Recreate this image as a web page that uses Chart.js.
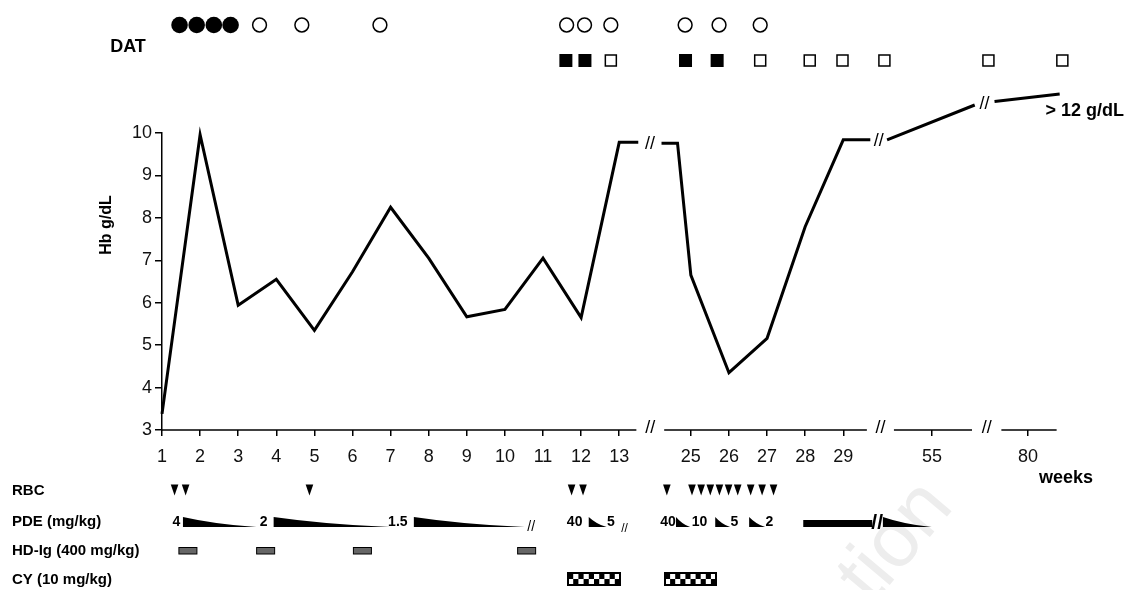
<!DOCTYPE html>
<html>
<head>
<meta charset="utf-8">
<script src="https://cdn.jsdelivr.net/npm/chart.js@4.4.1/dist/chart.umd.min.js"></script>
<style>
  html, body { margin: 0; padding: 0; background: #fff; }
  #wrap { width: 1127px; height: 590px; position: relative; }
</style>
</head>
<body>
<div id="wrap"><canvas id="grafico"></canvas></div>
<script>
// semanas com marca no eixo x (eixo quebrado)
const tickWeeks = [1, 2, 3, 4, 5, 6, 7, 8, 9, 10, 11, 12, 13, 25, 26, 27, 28, 29, 55, 80];

// Hb g/dL - null marca a quebra do eixo
const hbWeeks  = [1, 2, 3, 4, 5, 6, 7, 8, 9, 10, 11, 12, 13, 13.5, null, 24.23, 24.65, 25, 26, 27, 28, 29, 29.71, null, 53.82, 56.12, null, 79.12, 80.83];
const hbValues = [3.38, 9.96, 5.94, 6.55, 5.35, 6.73, 8.25, 7.05, 5.67, 5.84, 7.05, 5.65, 9.78, 9.78, null, 9.76, 9.76, 6.65, 4.35, 5.16, 7.79, 9.84, 9.84, null, 9.84, 10.66, null, 10.74, 10.92];

// DAT (cheio = positivo)
const datCircleWeeks = [1.46, 1.91, 2.36, 2.8, 3.56, 4.67, 6.72, 11.62, 12.09, 12.78, 24.85, 25.74, 26.82];
const datCirclePos   = [1, 1, 1, 1, 0, 0, 0, 0, 0, 0, 0, 0, 0];
const datSquareWeeks = [11.6, 12.1, 12.78, 24.86, 25.69, 26.82, 28.12, 28.98, 30.08, 56.48, 80.9];
const datSquarePos   = [1, 1, 0, 1, 1, 0, 0, 0, 0, 0, 0];

// transfusoes
const rbcWeeks = [1.33, 1.62, 4.87, 11.75, 12.05, 24.37, 25.03, 25.27, 25.51, 25.75, 25.99, 26.23, 26.57, 26.87, 27.17];

// prednisolona (mg/kg)
const pdeLabels     = ['4', '2', '1.5', '40', '5', '40', '10', '5', '2'];
const pdeLabelWeeks = [1.38, 3.67, 7.19, 11.83, 12.78, 24.4, 25.23, 26.14, 27.06];
const pdeTaperFrom  = [1.55, 3.93, 7.61, 12.2, 24.61, 25.64, 26.53, 27.95, 53.71];
const pdeTaperTo    = [3.48, 6.98, 10.52, 12.67, 24.98, 26.03, 26.95, 29.76, 54.99];
const pdeTaper      = [1, 1, 1, 1, 1, 1, 1, 0, 1];
const pdeBreakWeeks = [10.69, 13.14];
const pdeBoldBreak  = [29.89];

// HD-Ig e CY
const hdigWeeks = [1.68, 3.72, 6.26, 10.57];
const cyFrom = [11.65, 24.33];
const cyTo   = [13.02, 25.67];

// eixo quebrado: inicio de cada trecho e deslocamento semana -> posicao
const segStart = [0, 20, 45, 70];
const segShift = [1, 11.12, 34.79, 57.27];
const axisPieces = [[1, 13.45], [24.3, 29.62], [54, 56.05], [79.3, 80.75]];

function axisPos(week) {
    let s = 0;
    for (let i = 0; i < segStart.length; i++) {
        if (week >= segStart[i]) s = segShift[i];
    }
    return week - s;
}

const hbData = hbWeeks.map(function (w, i) {
    if (w === null) {
        return { x: (axisPos(hbWeeks[i - 1]) + axisPos(hbWeeks[i + 1])) / 2, y: null };
    }
    return { x: axisPos(w), y: hbValues[i] };
});

const FONT = "'Liberation Sans', Arial, Helvetica, sans-serif";
Chart.defaults.font.family = FONT;
Chart.defaults.color = '#111';

function slashes(ctx, x, y, size, bold) {
    ctx.save();
    ctx.font = (bold ? 'bold ' : '') + size + 'px ' + FONT;
    ctx.fillStyle = '#000';
    ctx.textAlign = 'center';
    ctx.textBaseline = 'middle';
    ctx.fillText('//', x, y);
    ctx.restore();
}

const extras = {
    id: 'extras',
    beforeDraw(chart) {
        // marca d'agua
        const ctx = chart.ctx;
        ctx.save();
        ctx.translate(872, 606);
        ctx.rotate(-50 * Math.PI / 180);
        ctx.font = '80px ' + FONT;
        ctx.fillStyle = '#ededed';
        ctx.fillText('tion', 0, 0);
        ctx.restore();
    },
    afterDraw(chart) {
        const ctx = chart.ctx;
        const xs = chart.scales.x, ys = chart.scales.y;
        const px = w => xs.getPixelForValue(axisPos(w));
        const base = ys.bottom;

        ctx.save();
        // eixo x em trechos
        ctx.strokeStyle = '#000';
        ctx.lineWidth = 1.5;
        axisPieces.forEach(function (p) {
            ctx.beginPath();
            ctx.moveTo(px(p[0]), base);
            ctx.lineTo(px(p[1]), base);
            ctx.stroke();
        });
        for (let i = 0; i < axisPieces.length - 1; i++) {
            slashes(ctx, (px(axisPieces[i][1]) + px(axisPieces[i + 1][0])) / 2, base - 2, 18, false);
        }

        // quebras na linha de Hb
        hbData.forEach(function (d, i) {
            if (d.y === null) {
                const ya = ys.getPixelForValue(hbData[i - 1].y);
                const yb = ys.getPixelForValue(hbData[i + 1].y);
                slashes(ctx, xs.getPixelForValue(d.x), (ya + yb) / 2 + 1, 18, false);
            }
        });

        // titulos
        ctx.fillStyle = '#000';
        ctx.font = 'bold 16px ' + FONT;
        ctx.textAlign = 'center';
        ctx.textBaseline = 'middle';
        ctx.save();
        ctx.translate(107, 225);
        ctx.rotate(-Math.PI / 2);
        ctx.fillText('Hb g/dL', 0, 0);
        ctx.restore();

        ctx.font = 'bold 18px ' + FONT;
        ctx.fillText('DAT', 128, 47);
        ctx.textAlign = 'left';
        ctx.textBaseline = 'alphabetic';
        ctx.fillText('weeks', 1039, 483);
        ctx.font = 'bold 18px ' + FONT;
        ctx.textAlign = 'right';
        ctx.textBaseline = 'middle';
        ctx.fillText('> 12 g/dL', 1124, 111);

        ctx.font = 'bold 15px ' + FONT;
        ctx.textAlign = 'left';
        ctx.fillText('RBC', 12, 491);
        ctx.fillText('PDE (mg/kg)', 12, 522);
        ctx.fillText('HD-Ig (400 mg/kg)', 12, 551);
        ctx.fillText('CY (10 mg/kg)', 12, 580);

        // DAT circulos
        ctx.lineWidth = 1.5;
        datCircleWeeks.forEach(function (w, i) {
            ctx.beginPath();
            if (datCirclePos[i]) {
                ctx.arc(px(w), 25, 8.3, 0, Math.PI * 2);
                ctx.fill();
            } else {
                ctx.arc(px(w), 25, 6.9, 0, Math.PI * 2);
                ctx.stroke();
            }
        });
        // DAT quadrados
        datSquareWeeks.forEach(function (w, i) {
            const x = px(w);
            if (datSquarePos[i]) {
                ctx.fillRect(x - 6.5, 54, 13, 13);
            } else {
                ctx.strokeRect(x - 5.5, 55, 11, 11);
            }
        });

        // RBC
        rbcWeeks.forEach(function (w) {
            const x = px(w);
            ctx.beginPath();
            ctx.moveTo(x - 3.8, 484.5);
            ctx.lineTo(x + 3.8, 484.5);
            ctx.lineTo(x, 495.5);
            ctx.closePath();
            ctx.fill();
        });

        // PDE
        ctx.font = 'bold 14px ' + FONT;
        ctx.textAlign = 'center';
        pdeLabels.forEach(function (t, i) {
            ctx.fillText(t, px(pdeLabelWeeks[i]), 522);
        });
        pdeTaperFrom.forEach(function (w, i) {
            const a = px(w), b = px(pdeTaperTo[i]);
            ctx.beginPath();
            if (pdeTaper[i]) {
                ctx.moveTo(a, 517);
                ctx.quadraticCurveTo(a + (b - a) * 0.45, 524.5, b, 527);
                ctx.lineTo(a, 527);
            } else {
                ctx.rect(a, 520, b - a, 7);
            }
            ctx.closePath();
            ctx.fill();
        });
        pdeBreakWeeks.forEach(function (w, i) {
            slashes(ctx, px(w), 527 + i * 2, 14 - i * 2, false);
        });
        pdeBoldBreak.forEach(function (w) {
            slashes(ctx, px(w), 523, 21, true);
        });

        // HD-Ig
        ctx.fillStyle = '#666';
        ctx.strokeStyle = '#000';
        ctx.lineWidth = 1;
        hdigWeeks.forEach(function (w) {
            const x = px(w);
            ctx.fillRect(x - 9, 547.5, 18, 6.5);
            ctx.strokeRect(x - 9, 547.5, 18, 6.5);
        });

        // CY (xadrez)
        cyFrom.forEach(function (w, i) {
            const a = Math.round(px(w)), b = Math.round(px(cyTo[i]));
            const top = 573, h = 12;
            ctx.fillStyle = '#fff';
            ctx.fillRect(a, top, b - a, h);
            ctx.fillStyle = '#000';
            const n = Math.round((b - a) / 5.2);
            const cw = (b - a) / n;
            for (let k = 0; k < n; k++) {
                ctx.fillRect(a + k * cw, top + (k % 2 ? h / 2 : 0), cw, h / 2);
            }
            ctx.lineWidth = 2;
            ctx.strokeRect(a, top, b - a, h);
        });
        ctx.restore();
    }
};

new Chart(document.getElementById('grafico'), {
    type: 'line',
    data: {
        datasets: [{
            data: hbData,
            borderColor: '#000',
            borderWidth: 3,
            pointRadius: 0,
            tension: 0,
            spanGaps: false,
            clip: false,
            borderJoinStyle: 'miter',
            borderCapStyle: 'butt'
        }]
    },
    options: {
        responsive: true,
        maintainAspectRatio: false,
        animation: false,
        devicePixelRatio: 1,
        layout: { padding: { left: 100, right: 65.8, top: 133, bottom: 120 } },
        plugins: { legend: { display: false }, tooltip: { enabled: false } },
        scales: {
            x: {
                type: 'linear',
                min: 0,
                max: 23.6,
                afterFit: function (s) { s.height = 40; },
                afterBuildTicks: function (axis) {
                    axis.ticks = tickWeeks.map(w => ({ value: axisPos(w) }));
                },
                border: { display: false },
                grid: { drawOnChartArea: false, tickLength: 6, color: '#000', lineWidth: 1.5 },
                ticks: {
                    autoSkip: false,
                    maxRotation: 0,
                    minRotation: 0,
                    padding: 10,
                    color: '#111',
                    font: { size: 18 },
                    callback: function (v, i) { return String(tickWeeks[i]); }
                }
            },
            y: {
                min: 3,
                max: 10,
                afterFit: function (s) { s.width = 62; },
                border: { display: true, color: '#000', width: 1.5 },
                grid: { drawOnChartArea: false, tickLength: 7, color: '#000', lineWidth: 1.5 },
                ticks: { stepSize: 1, padding: 3, color: '#111', font: { size: 18 } }
            }
        }
    },
    plugins: [extras]
});
</script>
</body>
</html>
